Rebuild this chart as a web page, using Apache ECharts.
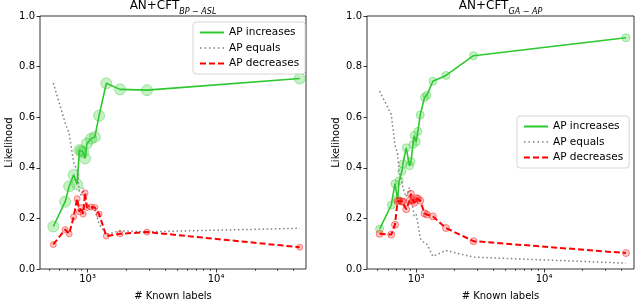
<!DOCTYPE html>
<html><head><meta charset="utf-8">
<script src="https://cdn.jsdelivr.net/npm/echarts@6/dist/echarts.min.js"></script>
<style>html,body{margin:0;padding:0;background:#fff}#c{width:640px;height:306px}</style>
</head><body><div id="c"></div>
<script>
// ---- data: left panel (AN+CFT BP-ASL) ----
const knownLabelsL = [542, 670, 720, 780, 830, 865, 895, 925, 957, 990, 1065, 1140, 1230, 1400, 1790, 2900, 44700];
const increasesL   = [0.168, 0.266, 0.327, 0.372, 0.334, 0.470, 0.466, 0.462, 0.437, 0.496, 0.515, 0.522, 0.606, 0.734, 0.710, 0.707, 0.753];
const equalsL      = [0.735, 0.578, 0.534, 0.422, 0.388, 0.304, 0.291, 0.321, 0.262, 0.261, 0.240, 0.235, 0.177, 0.136, 0.151, 0.147, 0.161];
const decreasesL   = [0.097, 0.156, 0.139, 0.206, 0.278, 0.226, 0.243, 0.217, 0.301, 0.243, 0.245, 0.243, 0.217, 0.130, 0.139, 0.146, 0.086];
// ---- data: right panel (AN+CFT GA-AP) ----
const knownLabelsR = [517, 638, 682, 714, 736, 772, 787, 835, 887, 909, 943, 964, 1000, 1031, 1075, 1161, 1212, 1349, 1706, 2806, 43700];
const increasesR   = [0.158, 0.253, 0.337, 0.275, 0.349, 0.386, 0.415, 0.479, 0.408, 0.425, 0.492, 0.528, 0.503, 0.544, 0.609, 0.678, 0.687, 0.742, 0.765, 0.843, 0.914];
const equalsR      = [0.703, 0.611, 0.488, 0.457, 0.381, 0.346, 0.320, 0.285, 0.322, 0.278, 0.238, 0.210, 0.217, 0.178, 0.121, 0.102, 0.098, 0.050, 0.073, 0.047, 0.023];
const decreasesR   = [0.139, 0.136, 0.175, 0.268, 0.270, 0.268, 0.265, 0.236, 0.270, 0.297, 0.270, 0.262, 0.280, 0.278, 0.270, 0.220, 0.215, 0.208, 0.162, 0.110, 0.063];
// ---- labels / ticks ----
const seriesNames = ['AP increases', 'AP equals', 'AP decreases'];
const panelSubs = ['BP \u2212 ASL', 'GA \u2212 AP'];
const yTicks = [0, 0.2, 0.4, 0.6, 0.8, 1.0];
const xMajorTicks = [1000, 10000];
const xMinorTicks = [500, 600, 700, 800, 900, 2000, 3000, 4000, 5000, 6000, 7000, 8000, 9000, 20000, 30000, 40000];

const FONT = 'DejaVu Sans';
const GREEN = '#2dc82d', RED = '#ff0000', GRAY = '#808080';
const sup = {'3': '\u00b3', '4': '\u2074', '2': '\u00b2', '5': '\u2075'};

function pts(xs, ys) { return xs.map((x, i) => [x, ys[i]]); }
function segPath(n, seg, step, h) {
  let p = 'path://';
  for (let i = 0; i < n; i++) { const x = i * step; p += 'M' + x + ',0h' + seg + 'v' + h + 'h-' + seg + 'Z'; }
  return p;
}
const iconSolid = 'path://M0,0H24V2H0Z';
const iconDot = segPath(6, 1.5, 4.5, 1.5);
const iconDash = segPath(3, 6, 9, 2);

const panels = [
  {left: 40, width: 266, min: 427, max: 50000, xs: knownLabelsL, inc: increasesL, eq: equalsL, dec: decreasesL, gSize: 11, rSize: 6, legend: {left: 193, top: 22}},
  {left: 367, width: 267, min: 412, max: 50500, xs: knownLabelsR, inc: increasesR, eq: equalsR, dec: decreasesR, gSize: 8, rSize: 7, legend: {left: 517, top: 116}}
];

const grid = [], xAxis = [], yAxis = [], series = [], title = [], legend = [];
panels.forEach((p, gi) => {
  grid.push({left: p.left, top: 16, width: p.width, height: 256, show: true, borderColor: '#000', borderWidth: 0.8, backgroundColor: 'transparent'});
  xAxis.push({
    type: 'log', logBase: 10, gridIndex: gi, min: p.min, max: p.max,
    name: '# Known labels', nameLocation: 'middle', nameGap: 22,
    nameTextStyle: {fontFamily: FONT, fontSize: 10, color: '#000'},
    axisLine: {show: false}, splitLine: {show: false}, minorTick: {show: false},
    axisTick: {show: true, length: 3.5, customValues: xMajorTicks, lineStyle: {color: '#000', width: 0.8}},
    axisLabel: {customValues: xMajorTicks, margin: 5, fontFamily: FONT, fontSize: 10, color: '#000',
      formatter: v => '10' + sup[String(Math.round(Math.log10(v)))]}
  });
  xAxis.push({
    type: 'log', logBase: 10, gridIndex: gi, min: p.min, max: p.max, position: 'bottom',
    axisLine: {show: false}, splitLine: {show: false}, axisLabel: {show: false},
    axisTick: {show: true, length: 2, customValues: xMinorTicks, lineStyle: {color: '#000', width: 0.6}}
  });
  yAxis.push({
    type: 'value', gridIndex: gi, min: 0, max: 1, interval: 0.2,
    name: 'Likelihood', nameLocation: 'middle', nameGap: 26, nameRotate: 90,
    nameTextStyle: {fontFamily: FONT, fontSize: 10, color: '#000'},
    axisLine: {show: false}, splitLine: {show: false},
    axisTick: {show: true, length: 3.5, lineStyle: {color: '#000', width: 0.8}},
    axisLabel: {margin: 5, fontFamily: FONT, fontSize: 10, color: '#000', formatter: v => v.toFixed(1)}
  });
  const xi = gi * 2;
  series.push({
    name: seriesNames[0], type: 'line', xAxisIndex: xi, yAxisIndex: gi, data: pts(p.xs, p.inc),
    symbol: 'circle', symbolSize: p.gSize, showAllSymbol: true, z: 2,
    lineStyle: {color: GREEN, width: 1.6},
    itemStyle: {color: 'rgba(50,205,50,0.28)', borderColor: 'rgba(50,205,50,0.4)', borderWidth: 1}
  });
  series.push({
    name: seriesNames[1], type: 'line', xAxisIndex: xi, yAxisIndex: gi, data: pts(p.xs, p.eq),
    symbol: 'none', z: 3,
    lineStyle: {color: GRAY, width: 1.5, type: [1.5, 2.6]}, itemStyle: {color: GRAY}
  });
  series.push({
    name: seriesNames[2], type: 'line', xAxisIndex: xi, yAxisIndex: gi, data: pts(p.xs, p.dec),
    symbol: 'circle', symbolSize: p.rSize, showAllSymbol: true, z: 4,
    lineStyle: {color: RED, width: 2, type: [6, 3]},
    itemStyle: {color: 'rgba(255,0,0,0.22)', borderColor: 'rgba(255,0,0,0.45)', borderWidth: 1}
  });
  title.push({
    text: '{m|AN+CFT}{s|' + panelSubs[gi] + '}', left: p.left + p.width / 2, top: 0, textAlign: 'center', padding: 0,
    textStyle: {fontWeight: 'normal', rich: {
      m: {fontFamily: FONT, fontSize: 12, fontWeight: 'normal', color: '#000', lineHeight: 16, verticalAlign: 'top'},
      s: {fontFamily: FONT, fontSize: 8, fontWeight: 'normal', fontStyle: 'italic', color: '#000', lineHeight: 9, verticalAlign: 'bottom'}
    }}
  });
  legend.push({
    left: p.legend.left, top: p.legend.top, orient: 'vertical', selectedMode: false,
    padding: [4, 6, 4, 7], itemGap: 2.5, itemWidth: 24, itemHeight: 2,
    borderColor: '#cccccc', borderWidth: 0.8, borderRadius: 3, backgroundColor: 'rgba(255,255,255,0.8)',
    itemStyle: {borderWidth: 0},
    textStyle: {fontFamily: FONT, fontSize: 10.5, color: '#000', lineHeight: 13},
    data: [
      {name: seriesNames[0], icon: iconSolid, itemStyle: {color: GREEN, borderWidth: 0}},
      {name: seriesNames[1], icon: iconDot, itemStyle: {color: GRAY, borderWidth: 0}},
      {name: seriesNames[2], icon: iconDash, itemStyle: {color: RED, borderWidth: 0}}
    ]
  });
});

const chart = echarts.init(document.getElementById('c'), null, {renderer: 'canvas'});
chart.setOption({animation: false, backgroundColor: '#fff', title, legend, grid, xAxis, yAxis, series});
</script></body></html>
